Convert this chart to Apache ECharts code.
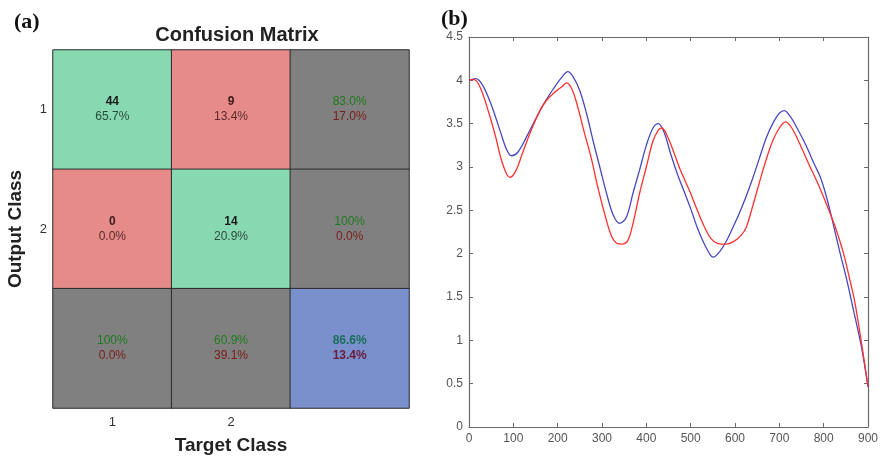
<!DOCTYPE html>
<html>
<head>
<meta charset="utf-8">
<script src="https://cdn.jsdelivr.net/npm/echarts@6/dist/echarts.min.js"></script>
<style>html,body{margin:0;padding:0;background:#fff;}#c{width:882px;height:459px;}</style>
</head>
<body>
<div id="c"></div>
<script>
// ---- Confusion matrix data ----
const targetClasses = ['1', '2', ''];
const outputClasses = ['1', '2', ''];
const cellTop = [
  ['44', '9', '83.0%'],
  ['0', '14', '100%'],
  ['100%', '60.9%', '86.6%']
];
const cellBottom = [
  ['65.7%', '13.4%', '17.0%'],
  ['0.0%', '20.9%', '0.0%'],
  ['0.0%', '39.1%', '13.4%']
];
const cellKind = [
  ['c', 'w', 's'],
  ['w', 'c', 's'],
  ['s', 's', 't']
];

// ---- Curve data (panel b) ----
const blueX = [0, 15, 30, 50, 70, 85, 96, 110, 130, 150, 170, 190, 210, 223, 235, 250, 265, 280, 295, 310, 325, 340, 355, 370, 385, 400, 415, 427, 440, 455, 470, 485, 500, 515, 530, 545, 551, 565, 580, 595, 610, 625, 640, 655, 670, 685, 700, 711, 725, 740, 760, 780, 792, 805, 818, 835, 852, 865, 885, 900];
const blueY = [4.00, 4.02, 3.95, 3.72, 3.42, 3.20, 3.13, 3.17, 3.35, 3.55, 3.74, 3.90, 4.04, 4.10, 4.04, 3.88, 3.62, 3.30, 3.00, 2.70, 2.45, 2.35, 2.42, 2.70, 2.97, 3.25, 3.45, 3.50, 3.40, 3.15, 2.92, 2.72, 2.52, 2.30, 2.12, 1.98, 1.96, 2.02, 2.14, 2.30, 2.47, 2.66, 2.87, 3.10, 3.33, 3.50, 3.62, 3.65, 3.58, 3.45, 3.25, 3.02, 2.89, 2.68, 2.42, 2.05, 1.70, 1.40, 0.93, 0.46];
const redX = [0, 10, 25, 45, 60, 75, 92, 105, 120, 140, 160, 175, 195, 210, 220, 232, 245, 260, 275, 290, 305, 320, 333, 345, 358, 370, 385, 400, 415, 428, 435, 448, 462, 478, 498, 515, 530, 545, 560, 580, 600, 615, 625, 640, 655, 670, 685, 700, 714, 728, 745, 765, 792, 818, 830, 845, 858, 870, 885, 900];
const redY = [4.00, 4.01, 3.92, 3.62, 3.35, 3.05, 2.88, 2.95, 3.15, 3.42, 3.65, 3.77, 3.87, 3.93, 3.97, 3.90, 3.70, 3.40, 3.12, 2.78, 2.48, 2.22, 2.12, 2.11, 2.15, 2.35, 2.70, 3.00, 3.30, 3.43, 3.45, 3.35, 3.17, 2.95, 2.72, 2.50, 2.32, 2.18, 2.12, 2.11, 2.15, 2.22, 2.30, 2.55, 2.82, 3.08, 3.30, 3.45, 3.52, 3.45, 3.28, 3.05, 2.75, 2.42, 2.25, 2.00, 1.72, 1.45, 0.98, 0.47];

const kindColor = { c: '#87d9b1', w: '#e78b8a', s: '#808080', t: '#7a90cc' };

const heatData = [];
for (let r = 0; r < 3; r++) {
  for (let col = 0; col < 3; col++) {
    heatData.push({
      value: [col, r, 1],
      itemStyle: { color: kindColor[cellKind[r][col]] },
      label: {
        formatter: '{' + cellKind[r][col] + '1|' + cellTop[r][col] + '}\n{' + cellKind[r][col] + '2|' + cellBottom[r][col] + '}'
      }
    });
  }
}

const pairs = (xs, ys) => xs.map((x, i) => [x, ys[i]]);

const chart = echarts.init(document.getElementById('c'), null, { renderer: 'canvas' });
const axisGray = '#6a6a6a';
const sans = 'Liberation Sans, Arial, sans-serif';
const lblFont = { color: '#555', fontSize: 12, fontFamily: sans };

chart.setOption({
  animation: false,
  backgroundColor: '#ffffff',
  title: [
    { text: '(a)', left: 9, top: 6, textStyle: { fontFamily: 'Liberation Serif, Times New Roman, serif', fontWeight: 'bold', fontSize: 22, color: '#111' } },
    { text: '(b)', left: 436, top: 3, textStyle: { fontFamily: 'Liberation Serif, Times New Roman, serif', fontWeight: 'bold', fontSize: 22, color: '#111' } },
    { text: 'Confusion Matrix', left: 232, textAlign: 'center', top: 20, textStyle: { fontFamily: sans, fontWeight: 'bold', fontSize: 20, color: '#222' } }
  ],
  grid: [
    { left: 53, top: 50, width: 356, height: 358, outerBoundsMode: 'none', containLabel: false },
    { left: 469, top: 37, right: 14, bottom: 32, outerBoundsMode: 'none', containLabel: false }
  ],
  xAxis: [
    {
      gridIndex: 0, type: 'category', data: targetClasses, position: 'bottom',
      axisLine: { show: false }, axisTick: { show: false }, splitLine: { show: false },
      axisLabel: { color: '#333', fontSize: 13, margin: 8, fontFamily: sans },
      name: 'Target Class', nameLocation: 'middle', nameGap: 28,
      nameTextStyle: { fontWeight: 'bold', fontSize: 19, color: '#222', fontFamily: sans }
    },
    {
      gridIndex: 1, type: 'value', min: 0, max: 900, interval: 100, position: 'bottom',
      axisLine: { show: true, onZero: false, lineStyle: { color: axisGray, width: 1.2 } },
      axisTick: { show: true, inside: true, length: 4, lineStyle: { color: axisGray } },
      splitLine: { show: false },
      axisLabel: Object.assign({ margin: 6 }, lblFont)
    },
    {
      gridIndex: 1, type: 'value', min: 0, max: 900, interval: 100, position: 'top',
      axisLine: { show: true, onZero: false, lineStyle: { color: axisGray, width: 1.2 } },
      axisTick: { show: true, inside: true, length: 4, lineStyle: { color: axisGray } },
      splitLine: { show: false }, axisLabel: { show: false }
    }
  ],
  yAxis: [
    {
      gridIndex: 0, type: 'category', data: outputClasses, inverse: true,
      axisLine: { show: false }, axisTick: { show: false }, splitLine: { show: false },
      axisLabel: { color: '#333', fontSize: 13, margin: 6, fontFamily: sans },
      name: 'Output Class', nameLocation: 'middle', nameGap: 28, nameRotate: 90,
      nameTextStyle: { fontWeight: 'bold', fontSize: 19, color: '#222', fontFamily: sans }
    },
    {
      gridIndex: 1, type: 'value', min: 0, max: 4.5, interval: 0.5, position: 'left',
      axisLine: { show: true, onZero: false, lineStyle: { color: axisGray, width: 1.2 } },
      axisTick: { show: true, inside: true, length: 4, lineStyle: { color: axisGray } },
      splitLine: { show: false },
      axisLabel: Object.assign({ margin: 6 }, lblFont)
    },
    {
      gridIndex: 1, type: 'value', min: 0, max: 4.5, interval: 0.5, position: 'right',
      axisLine: { show: true, onZero: false, lineStyle: { color: axisGray, width: 1.2 } },
      axisTick: { show: true, inside: true, length: 4, lineStyle: { color: axisGray } },
      splitLine: { show: false }, axisLabel: { show: false }
    }
  ],
  series: [
    {
      type: 'heatmap', xAxisIndex: 0, yAxisIndex: 0, data: heatData,
      itemStyle: { borderColor: '#2a2a2a', borderWidth: 1 },
      emphasis: { disabled: true },
      label: {
        show: true,
        fontFamily: sans,
        rich: {
          c1: { fontWeight: 'bold', fontSize: 12, color: '#1a1a1a', lineHeight: 15 },
          c2: { fontSize: 12, color: '#2c4a3c', lineHeight: 15 },
          w1: { fontWeight: 'bold', fontSize: 12, color: '#3a1a1a', lineHeight: 15 },
          w2: { fontSize: 12, color: '#5a2a2a', lineHeight: 15 },
          s1: { fontSize: 12, color: '#1f7a1f', lineHeight: 15 },
          s2: { fontSize: 12, color: '#7a1a1a', lineHeight: 15 },
          t1: { fontSize: 12, fontWeight: 'bold', color: '#1a6f5a', lineHeight: 15 },
          t2: { fontSize: 12, fontWeight: 'bold', color: '#6a1a3a', lineHeight: 15 }
        }
      }
    },
    {
      type: 'line', xAxisIndex: 1, yAxisIndex: 1, data: pairs(blueX, blueY),
      smooth: 0.35, showSymbol: false, lineStyle: { color: '#4848c0', width: 1.3 }
    },
    {
      type: 'line', xAxisIndex: 1, yAxisIndex: 1, data: pairs(redX, redY),
      smooth: 0.35, showSymbol: false, lineStyle: { color: '#ff3030', width: 1.3 }
    }
  ]
});
</script>
</body>
</html>
